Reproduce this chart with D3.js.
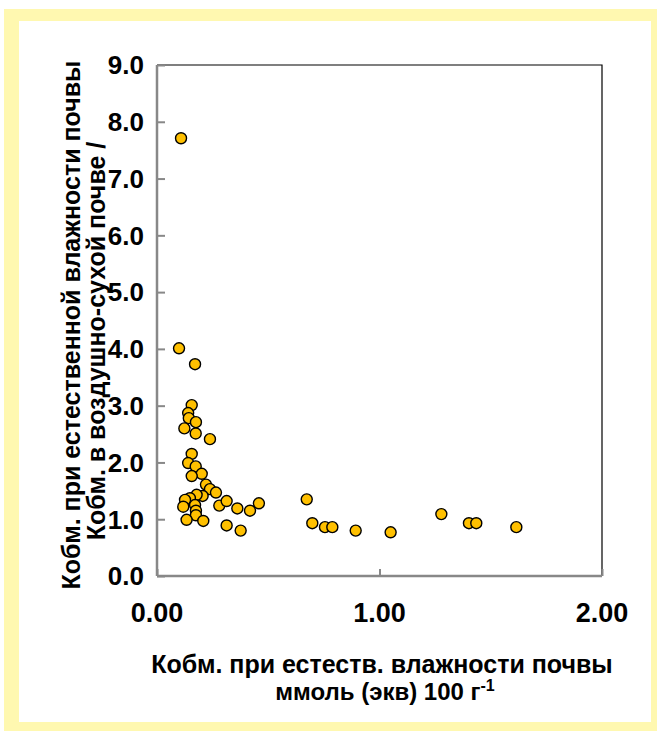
<!DOCTYPE html>
<html>
<head>
<meta charset="utf-8">
<script src="https://cdn.jsdelivr.net/npm/d3@7"></script>
<style>
  body { margin: 0; background: #fff; }
  text { font-family: "Liberation Sans", Arial, sans-serif; font-weight: bold; fill: #000; }
</style>
</head>
<body>
<div id="chart"></div>
<script>
// data
const xVals = [0.108, 0.099, 0.171, 0.156, 0.140, 0.143, 0.175, 0.123, 0.174, 0.238,
               0.156, 0.140, 0.174, 0.201, 0.156, 0.220, 0.238, 0.265, 0.205, 0.178,
               0.148, 0.126, 0.118, 0.171, 0.175, 0.175, 0.133, 0.208, 0.280, 0.313,
               0.361, 0.418, 0.458, 0.313, 0.376, 0.673, 0.698, 0.755, 0.788, 0.893,
               1.050, 1.278, 1.402, 1.435, 1.615];
const yVals = [7.71, 4.01, 3.73, 3.01, 2.87, 2.78, 2.71, 2.60, 2.51, 2.41,
               2.15, 1.99, 1.93, 1.80, 1.76, 1.61, 1.53, 1.47, 1.41, 1.43,
               1.37, 1.34, 1.22, 1.25, 1.15, 1.07, 0.99, 0.97, 1.24, 1.32,
               1.19, 1.15, 1.28, 0.89, 0.80, 1.35, 0.93, 0.86, 0.86, 0.80,
               0.77, 1.09, 0.93, 0.93, 0.86];
const xTicks = [0, 1, 2];
const yTicks = [0, 1, 2, 3, 4, 5, 6, 7, 8, 9];

const W = 661, H = 731;
const m = {top: 65, right: 59, bottom: 155, left: 157},
    w = W - m.left - m.right,
    h = H - m.top - m.bottom;

const svg = d3.select("#chart")
  .append("svg")
    .attr("width", W)
    .attr("height", H);

// yellow frame
svg.append("rect").attr("x", 4).attr("y", 9).attr("width", 653).attr("height", 722).attr("fill", "#fff8b0");
svg.append("rect").attr("x", 19).attr("y", 21).attr("width", 632).attr("height", 701).attr("fill", "#fff");

const g = svg.append("g").attr("transform", `translate(${m.left},${m.top})`);

const x = d3.scaleLinear().domain([0, 2]).range([0, w]);
const y = d3.scaleLinear().domain([0, 9]).range([h, 0]);

// top and right border
g.append("path")
  .attr("d", `M0,0H${w}V${h}`)
  .attr("fill", "none")
  .attr("stroke", "#000")
  .attr("stroke-width", 1.2);

// axes
const yAxis = g.append("g")
  .call(d3.axisRight(y).tickValues(yTicks).tickSize(8).tickFormat(""));
const xAxis = g.append("g")
  .attr("transform", `translate(0,${h})`)
  .call(d3.axisTop(x).tickValues(xTicks).tickSize(7).tickFormat(""));
[yAxis, xAxis].forEach(a => {
  a.select(".domain").attr("stroke", "#888").attr("stroke-width", 2.5);
  a.selectAll(".tick line").attr("stroke", "#888").attr("stroke-width", 2);
});
xAxis.select(".domain").attr("d", `M0,0H${w}`);
yAxis.select(".domain").attr("d", `M0,0V${h}`);

// tick labels
g.selectAll(".ylab")
  .data(yTicks)
  .enter().append("text")
    .attr("x", -13)
    .attr("y", d => y(d))
    .attr("dy", "0.36em")
    .attr("text-anchor", "end")
    .style("font-size", "26px")
    .text(d => d.toFixed(1));

g.selectAll(".xlab")
  .data(xTicks)
  .enter().append("text")
    .attr("x", d => x(d))
    .attr("y", h + 46)
    .attr("text-anchor", "middle")
    .style("font-size", "27px")
    .text(d => d.toFixed(2));

// points
g.selectAll("circle")
  .data(xVals.map((v, i) => [v, yVals[i]]))
  .enter().append("circle")
    .attr("cx", d => x(d[0]))
    .attr("cy", d => y(d[1]))
    .attr("r", 5.5)
    .attr("fill", "#ffc000")
    .attr("stroke", "#000")
    .attr("stroke-width", 1.4);

// axis titles
svg.append("text")
  .attr("x", 382).attr("y", 673)
  .attr("text-anchor", "middle")
  .style("font-size", "25px")
  .text("Кобм. при естеств. влажности почвы");

const t2 = svg.append("text")
  .attr("x", 385).attr("y", 700)
  .attr("text-anchor", "middle")
  .style("font-size", "24px")
  .text("ммоль (экв) 100 г");
t2.append("tspan").attr("dy", -9).style("font-size", "16px").text("-1");

const ty = svg.append("g").attr("transform", "rotate(-90)");
ty.append("text")
  .attr("x", -341).attr("y", 105)
  .attr("text-anchor", "middle")
  .style("font-size", "25px")
  .text("Кобм. в воздушно-сухой почве /");
ty.append("text")
  .attr("x", -325).attr("y", 80)
  .attr("text-anchor", "middle")
  .style("font-size", "25px")
  .text("Кобм. при естественной влажности почвы");
</script>
</body>
</html>
